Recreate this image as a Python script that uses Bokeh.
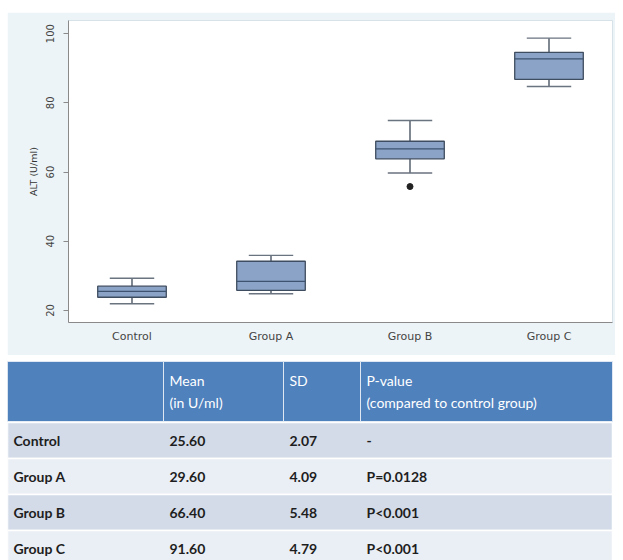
from bokeh.plotting import figure
from bokeh.layouts import row
from bokeh.models import Spacer, FactorRange, Range1d, FixedTicker
from bokeh.core.properties import value
from bokeh.embed import file_html
from bokeh.resources import INLINE

# ---- box plot data ----
groups = ["Control", "Group A", "Group B", "Group C"]
whisker_low = [21.9, 24.8, 59.7, 84.7]
q1 = [23.8, 25.8, 63.8, 86.8]
median = [25.5, 28.4, 66.7, 92.7]
q3 = [27.0, 34.2, 68.9, 94.6]
whisker_high = [29.3, 35.9, 74.9, 98.7]
outlier_groups = ["Group B"]
outlier_values = [55.8]
y_ticks = [20, 40, 60, 80, 100]

# ---- table data ----
table_rows = ["Control", "Group A", "Group B", "Group C"]
mean_vals = ["25.60", "29.60", "66.40", "91.60"]
sd_vals = ["2.07", "4.09", "5.48", "4.79"]
p_vals = ["-", "P=0.0128", "P<0.001", "P<0.001"]
header_line1 = ["", "Mean", "SD", "P-value"]
header_line2 = ["", "(in U/ml)", "", "(compared to control group)"]

# ---- box plot ----
p1 = figure(width=608, height=343,
            x_range=FactorRange(*groups, range_padding=0, factor_padding=0.0945),
            y_range=Range1d(16.5, 103.8),
            output_backend="svg", toolbar_location=None,
            min_border_left=61, min_border_right=3,
            min_border_top=8, min_border_bottom=33)
p1.background_fill_color = "white"
p1.border_fill_color = "#edf4f7"
p1.outline_line_color = "#d6e1e8"
p1.xgrid.visible = False
p1.ygrid.visible = False

ya = p1.yaxis[0]
ya.ticker = FixedTicker(ticks=y_ticks)
ya.major_label_orientation = "vertical"
ya.major_tick_out = 5
ya.major_tick_in = 0
ya.minor_tick_out = 0
ya.minor_tick_in = 0
ya.axis_line_color = "#8a8a8a"
ya.major_tick_line_color = "#8a8a8a"
ya.major_label_text_font = "DejaVu Sans"
ya.major_label_text_font_size = "10px"
ya.major_label_text_color = "#444444"
ya.major_label_standoff = 9
ya.axis_label = "ALT (U/ml)"
ya.axis_label_text_font = "DejaVu Sans"
ya.axis_label_text_font_size = "9.5px"
ya.axis_label_text_font_style = "normal"
ya.axis_label_text_color = "#333333"
ya.axis_label_standoff = 5

xa = p1.xaxis[0]
xa.major_tick_out = 0
xa.major_tick_in = 0
xa.axis_line_color = "#8a8a8a"
xa.major_label_text_font = "DejaVu Sans"
xa.major_label_text_font_size = "11px"
xa.major_label_text_color = "#444444"
xa.major_label_standoff = 7

box_fill = "#8ba3c6"
box_line = "#3f4d60"

p1.segment(x0=groups, y0=q3, x1=groups, y1=whisker_high, line_color="#4a5563", line_width=1.4)
p1.segment(x0=groups, y0=q1, x1=groups, y1=whisker_low, line_color="#4a5563", line_width=1.4)
p1.vbar(x=groups, width=0.35, bottom=whisker_high, top=whisker_high,
        fill_color=None, line_color="#6a7380", line_width=1.4)
p1.vbar(x=groups, width=0.35, bottom=whisker_low, top=whisker_low,
        fill_color=None, line_color="#6a7380", line_width=1.4)
p1.vbar(x=groups, width=0.54, bottom=q1, top=q3,
        fill_color=box_fill, line_color=box_line, line_width=1.3)
p1.vbar(x=groups, width=0.54, bottom=median, top=median,
        fill_color=None, line_color="#3d5370", line_width=1.3)
p1.scatter(x=outlier_groups, y=outlier_values, size=6, color="#222222")

# ---- table ----
TW, TH = 606, 205
p2 = figure(width=TW, height=TH, x_range=Range1d(0, TW), y_range=Range1d(TH, 0),
            output_backend="svg", toolbar_location=None, min_border=0,
            x_axis_location=None, y_axis_location=None)
p2.xgrid.visible = False
p2.ygrid.visible = False
p2.outline_line_color = None
p2.background_fill_color = "white"
p2.border_fill_color = "white"

col_edges = [0, 156, 276, 353, 605]
text_x = [e + 6 for e in col_edges[:-1]]
head_top, head_bot = 6, 66
row_top0, row_h = 67, 36

p2.quad(left=col_edges[:-1], right=col_edges[1:], top=[head_top] * 4, bottom=[head_bot] * 4,
        fill_color="#4f81bd", line_color="#dfe7f2", line_width=1)

n = len(table_rows)
tops = [row_top0 + i * row_h for i in range(n)]
bots = [t + row_h for t in tops]
band_colors = ["#d3dbe9" if i % 2 == 0 else "#eaeef5" for i in range(n)]
p2.quad(left=[col_edges[0]] * n, right=[col_edges[-1]] * n, top=tops, bottom=bots,
        fill_color=band_colors, line_color="white", line_width=1.5)

hfont = value("Lato")
p2.text(x=text_x, y=[25] * 4, text=header_line1, text_font=hfont, text_font_size="14px",
        text_color="white", text_baseline="middle", text_align="left")
p2.text(x=text_x, y=[47] * 4, text=header_line2, text_font=hfont, text_font_size="14px",
        text_color="white", text_baseline="middle", text_align="left")

centers = [t + row_h / 2 for t in tops]
for j, col in enumerate([table_rows, mean_vals, sd_vals, p_vals]):
    p2.text(x=[text_x[j]] * n, y=centers, text=col, text_font=hfont, text_font_size="14px",
            text_font_style="bold", text_color="#1e1e1e", text_baseline="middle", text_align="left")

top_gap = Spacer(width=615, height=12)
chart_row = row(Spacer(width=7, height=343), p1)
table_row = row(Spacer(width=7, height=TH), p2)
open("out.html", "w").write(file_html([top_gap, chart_row, table_row], INLINE))
